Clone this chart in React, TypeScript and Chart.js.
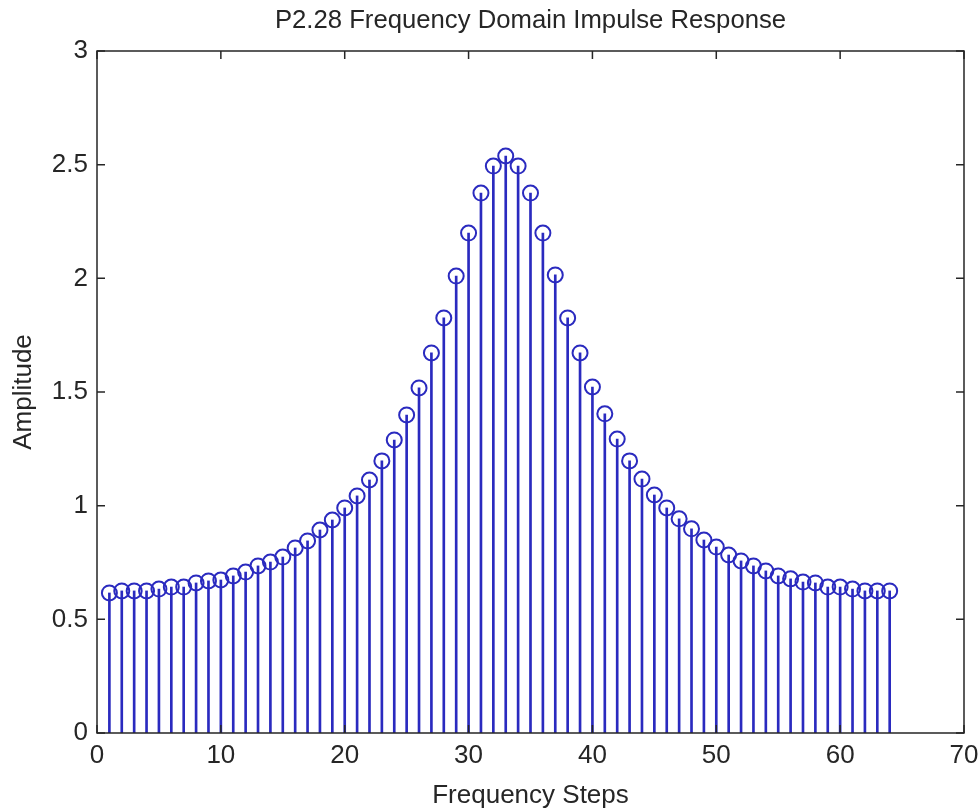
import React, { useEffect, useRef } from "react";
import { Chart, registerables } from "chart.js";

Chart.register(...registerables);

const steps: number[] = Array.from({ length: 64 }, (_, i) => i + 1);
const amplitudeLeft: number[] = [
  0.616, 0.625, 0.625, 0.625, 0.633, 0.642, 0.642, 0.66, 0.669, 0.673,
  0.691, 0.708, 0.735, 0.752, 0.774, 0.814, 0.845, 0.893, 0.937, 0.99,
  1.043, 1.113, 1.197, 1.289, 1.399, 1.518, 1.672, 1.826, 2.01, 2.199,
  2.375, 2.494, 2.538,
];
const amplitudeRight: number[] = [
  2.494, 2.375, 2.199, 2.015, 1.826, 1.672, 1.522, 1.404, 1.293, 1.197,
  1.117, 1.047, 0.99, 0.942, 0.898, 0.849, 0.818, 0.783, 0.757, 0.735,
  0.713, 0.691, 0.678, 0.664, 0.66, 0.642, 0.642, 0.633, 0.625, 0.625,
  0.625,
];
const amplitude: number[] = [...amplitudeLeft, ...amplitudeRight];

const xTicks: number[] = [0, 10, 20, 30, 40, 50, 60, 70];
const yTicks: number[] = [0, 0.5, 1, 1.5, 2, 2.5, 3];

const TITLE = "P2.28 Frequency Domain Impulse Response";
const X_LABEL = "Frequency Steps";
const Y_LABEL = "Amplitude";

const STEM = "#2a2abf";
const AXIS = "#262626";
const FONT = "'Liberation Sans', Arial, Helvetica, sans-serif";

const boxPlugin = {
  id: "matlabBox",
  afterDatasetsDraw(chart: any) {
    const { ctx, chartArea, scales } = chart;
    const { left, right, top, bottom } = chartArea;
    ctx.save();
    ctx.strokeStyle = AXIS;
    ctx.lineWidth = 1.5;
    ctx.beginPath();
    ctx.rect(left, top, right - left, bottom - top);
    ctx.stroke();
    const len = 8;
    ctx.beginPath();
    for (const t of xTicks) {
      const x = scales.x.getPixelForValue(t);
      ctx.moveTo(x, bottom);
      ctx.lineTo(x, bottom - len);
      ctx.moveTo(x, top);
      ctx.lineTo(x, top + len);
    }
    for (const t of yTicks) {
      const y = scales.y.getPixelForValue(t);
      ctx.moveTo(left, y);
      ctx.lineTo(left + len, y);
      ctx.moveTo(right, y);
      ctx.lineTo(right - len, y);
    }
    ctx.stroke();
    ctx.restore();
  },
};

export default function App() {
  const ref = useRef<HTMLCanvasElement | null>(null);

  useEffect(() => {
    document.body.style.margin = "0";
    document.body.style.background = "#ffffff";
    const canvas = ref.current;
    if (!canvas) return;
    const points = steps.map((s, i) => ({ x: s, y: amplitude[i] }));
    const chart = new Chart(canvas, {
      type: "scatter",
      data: {
        datasets: [
          {
            type: "scatter",
            data: points,
            pointStyle: "circle",
            pointRadius: 7.5,
            pointBorderWidth: 2,
            pointBorderColor: STEM,
            pointBackgroundColor: "rgba(0,0,0,0)",
            showLine: false,
            order: 0,
          } as any,
          {
            type: "bar",
            data: points,
            backgroundColor: STEM,
            borderWidth: 0,
            barThickness: 2,
            order: 1,
          } as any,
        ],
      },
      options: {
        animation: false,
        responsive: false,
        maintainAspectRatio: false,
        layout: { padding: { left: 0, right: 16, top: 0, bottom: 0 } },
        plugins: {
          legend: { display: false },
          tooltip: { enabled: false },
          title: { display: false },
        },
        scales: {
          x: {
            type: "linear",
            min: 0,
            max: 70,
            offset: false,
            afterFit: (s: any) => {
              s.height = 79;
              s.paddingLeft = 0;
              s.paddingRight = 0;
            },
            afterBuildTicks: (s: any) => {
              s.ticks = xTicks.map((v) => ({ value: v }));
            },
            ticks: {
              color: AXIS,
              font: { family: FONT, size: 26 },
              padding: 7,
              maxRotation: 0,
              autoSkip: false,
            },
            grid: { display: false, drawTicks: false, offset: false },
            border: { display: false },
            title: {
              display: true,
              text: X_LABEL,
              color: AXIS,
              font: { family: FONT, size: 26 },
              padding: { top: 0, bottom: 1 },
            },
          },
          x2: {
            type: "linear",
            position: "top",
            min: 0,
            max: 70,
            offset: false,
            afterFit: (s: any) => {
              s.height = 51;
              s.paddingLeft = 0;
              s.paddingRight = 0;
            },
            ticks: { display: false },
            grid: { display: false, drawTicks: false },
            border: { display: false },
            title: {
              display: true,
              text: TITLE,
              color: AXIS,
              font: { family: FONT, size: 25.7 },
              padding: { top: 5, bottom: 0 },
            },
          },
          y: {
            type: "linear",
            min: 0,
            max: 3,
            afterFit: (s: any) => {
              s.width = 97;
            },
            afterBuildTicks: (s: any) => {
              s.ticks = yTicks.map((v) => ({ value: v }));
            },
            ticks: {
              color: AXIS,
              font: { family: FONT, size: 26 },
              padding: 9,
              autoSkip: false,
              callback: (v: any) => String(v),
            },
            grid: { display: false, drawTicks: false },
            border: { display: false },
            title: {
              display: true,
              text: Y_LABEL,
              color: AXIS,
              font: { family: FONT, size: 26 },
              padding: { top: 8, bottom: 0 },
            },
          },
        },
      },
      plugins: [boxPlugin],
    });
    return () => chart.destroy();
  }, []);

  return (
    <canvas
      ref={ref}
      width={980}
      height={812}
      style={{ display: "block", width: 980, height: 812 }}
    />
  );
}
